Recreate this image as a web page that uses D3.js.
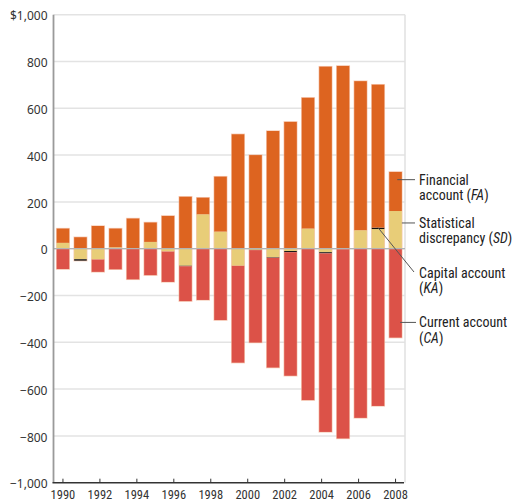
<!DOCTYPE html>
<html>
<head>
<meta charset="utf-8">
<script src="https://cdn.jsdelivr.net/npm/d3@7"></script>
<style>
  body { margin: 0; background: #fff; }
  svg { display: block; }
</style>
</head>
<body>
<svg id="chart" width="515" height="500"></svg>
<script>
// bar categories (one per bar, left to right)
var years = [1990, 1991, 1992, 1993, 1994, 1995, 1996, 1997, 1998, 1999,
             2000, 2001, 2002, 2003, 2004, 2005, 2006, 2007, 2008, 2009];
// series, $ billions
var financialAccount = [61, 49, 97, 80, 129, 83, 140, 222, 71, 235,
                        489, 400, 503, 542, 559, 778, 781, 637, 611, 167];
var statDiscrepancy  = [25, -45, -46, 6, 0, 29, -12, -73, 147, 73,
                        -73, -5, -37, -10, 86, -15, -2, 79, 84, 161];
var capitalAccount   = [0, -6, 0, 0, -1, 0, 0, -2, 0, 0,
                        0, -1, -2, -5, 0, -5, 0, 0, 6, 0];
var currentAccount   = [-87, 0, -53, -88, -130, -113, -130, -149, -219, -305,
                        -414, -395, -469, -528, -647, -763, -809, -723, -672, -380];
// axis labels
var yTicks = [1000, 800, 600, 400, 200, 0, -200, -400, -600, -800, -1000];
var xTickYears = [1990, 1992, 1994, 1996, 1998, 2000, 2002, 2004, 2006, 2008];

(function() {
var keys = ["SD", "KA", "FA", "CA"],
  colors = { FA: "#dd6420", SD: "#e8cd78", KA: "#111", CA: "#dc5248" },
  rows = years.map(function(yr, i) {
    return { year: yr, FA: financialAccount[i], SD: statDiscrepancy[i],
             KA: capitalAccount[i], CA: currentAccount[i] };
  });

var svg = d3.select("#chart"),
  plotL = 53.5, plotR = 405, plotT = 14.7, plotB = 482.7,
  x = d3.scaleBand()
    .domain(years)
    .range([plotL, plotR])
    .paddingInner(0.28)
    .paddingOuter(0.18),
  y = d3.scaleLinear()
    .domain([-1000, 1000])
    .range([plotB, plotT]),
  bw = x.bandwidth(),
  // the printed year ticks run from the first bar to the last one
  xt = d3.scaleLinear()
    .domain([xTickYears[0], xTickYears[xTickYears.length - 1]])
    .range([x(years[0]) + bw / 2, x(years[years.length - 1]) + bw / 2]),
  stack = d3.stack().keys(keys).offset(d3.stackOffsetDiverging),
  series = stack(rows),
  labelFont = "'Liberation Sans Narrow', 'Roboto Condensed', 'DejaVu Sans Condensed', sans-serif";

// grid
svg.append("g")
  .selectAll("line")
  .data(yTicks.filter(function(d) { return d > -1000; }))
  .enter().append("line")
  .attr("x1", plotL).attr("x2", plotR)
  .attr("y1", y).attr("y2", y)
  .attr("stroke", "#e3e3e3")
  .attr("stroke-width", 1.5);

svg.append("line")
  .attr("x1", plotR).attr("x2", plotR)
  .attr("y1", plotT).attr("y2", plotB)
  .attr("stroke", "#e0e0e0")
  .attr("stroke-width", 1.5);

// soft outline round each whole bar
svg.append("g")
  .selectAll("rect")
  .data(rows)
  .enter().append("rect")
  .attr("x", function(d) { return x(d.year); })
  .attr("width", bw)
  .attr("y", function(d) {
    var pos = d3.sum(keys, function(k) { return Math.max(0, d[k]); });
    return y(pos);
  })
  .attr("height", function(d) {
    var pos = d3.sum(keys, function(k) { return Math.max(0, d[k]); }),
      neg = d3.sum(keys, function(k) { return Math.min(0, d[k]); });
    return y(neg) - y(pos);
  })
  .attr("fill", "none")
  .attr("stroke", "#f3b89a")
  .attr("stroke-width", 1.4)
  .attr("stroke-opacity", 0.7);

// stacked bars
svg.append("g")
  .selectAll("g")
  .data(series)
  .enter().append("g")
  .attr("fill", function(s) { return colors[s.key]; })
  .selectAll("rect")
  .data(function(s) { return s; })
  .enter().append("rect")
  .attr("x", function(d) { return x(d.data.year); })
  .attr("width", bw)
  .attr("y", function(d) { return y(Math.max(d[0], d[1])); })
  .attr("height", function(d) { return Math.abs(y(d[0]) - y(d[1])); });

// zero line sits over the bars
svg.append("line")
  .attr("x1", plotL).attr("x2", plotR)
  .attr("y1", y(0)).attr("y2", y(0))
  .attr("stroke", "#b4b4b4")
  .attr("stroke-width", 1.3);

// axes
svg.append("line")
  .attr("x1", plotL).attr("x2", plotL)
  .attr("y1", plotT).attr("y2", plotB)
  .attr("stroke", "#9a9a9a")
  .attr("stroke-width", 1.8);

svg.append("line")
  .attr("x1", plotL - 1).attr("x2", plotR - 1)
  .attr("y1", plotB).attr("y2", plotB)
  .attr("stroke", "#333")
  .attr("stroke-width", 1.5);

svg.append("g")
  .selectAll("text")
  .data(yTicks)
  .enter().append("text")
  .attr("x", 47.5)
  .attr("y", function(d) { return y(d) + 1.5; })
  .attr("dy", "0.35em")
  .attr("text-anchor", "end")
  .attr("font-family", "'Noto Sans', sans-serif")
  .attr("font-size", 12)
  .attr("fill", "#333")
  .text(function(d) { return (d === 1000 ? "$" : "") + d3.format(",")(d); });

var xg = svg.append("g");
xg.selectAll("line")
  .data(xTickYears)
  .enter().append("line")
  .attr("x1", xt).attr("x2", xt)
  .attr("y1", plotB - 4).attr("y2", plotB)
  .attr("stroke", "#333")
  .attr("stroke-width", 1);
xg.selectAll("text")
  .data(xTickYears)
  .enter().append("text")
  .attr("x", xt)
  .attr("y", 498.5)
  .attr("text-anchor", "middle")
  .attr("font-family", labelFont)
  .attr("font-size", 12.5)
  .attr("fill", "#333")
  .text(function(d) { return d; });

// annotations on the right
var last = rows[rows.length - 1],
  kaBar = rows[18],
  kaTop = y(kaBar.SD + kaBar.KA),
  notes = [
    { lines: ["Financial", ["account (", "FA", ")"]], x1: x(last.year) + 8, y1: y(295), x2: 415, y2: y(295) },
    { lines: ["Statistical", ["discrepancy (", "SD", ")"]], x1: x(last.year) + bw, y1: y(110), x2: 415, y2: y(110) },
    { lines: ["Capital account", ["(", "KA", ")"]], x1: x(kaBar.year) + bw / 2, y1: kaTop, x2: 414, y2: 272 },
    { lines: ["Current account", ["(", "CA", ")"]], x1: x(last.year) + 11, y1: y(-315), x2: 416, y2: y(-315) }
  ];

notes.forEach(function(n, i) {
  svg.append("line")
    .attr("x1", n.x1).attr("y1", n.y1)
    .attr("x2", n.x2).attr("y2", n.y2)
    .attr("stroke", "#555")
    .attr("stroke-width", 1);

  var base = (i === 2 ? 277.5 : n.y2 + 5),
    t = svg.append("text")
      .attr("font-family", labelFont)
      .attr("font-size", 14)
      .attr("fill", "#222");

  t.append("tspan").attr("x", 419).attr("y", base).text(n.lines[0]);
  var second = t.append("tspan").attr("x", 419).attr("y", base + 15.5);
  n.lines[1].forEach(function(part, j) {
    (j === 0 ? second : t.append("tspan"))
      .attr("font-style", j === 1 ? "italic" : null)
      .text(part);
  });
});
})();
</script>
</body>
</html>
